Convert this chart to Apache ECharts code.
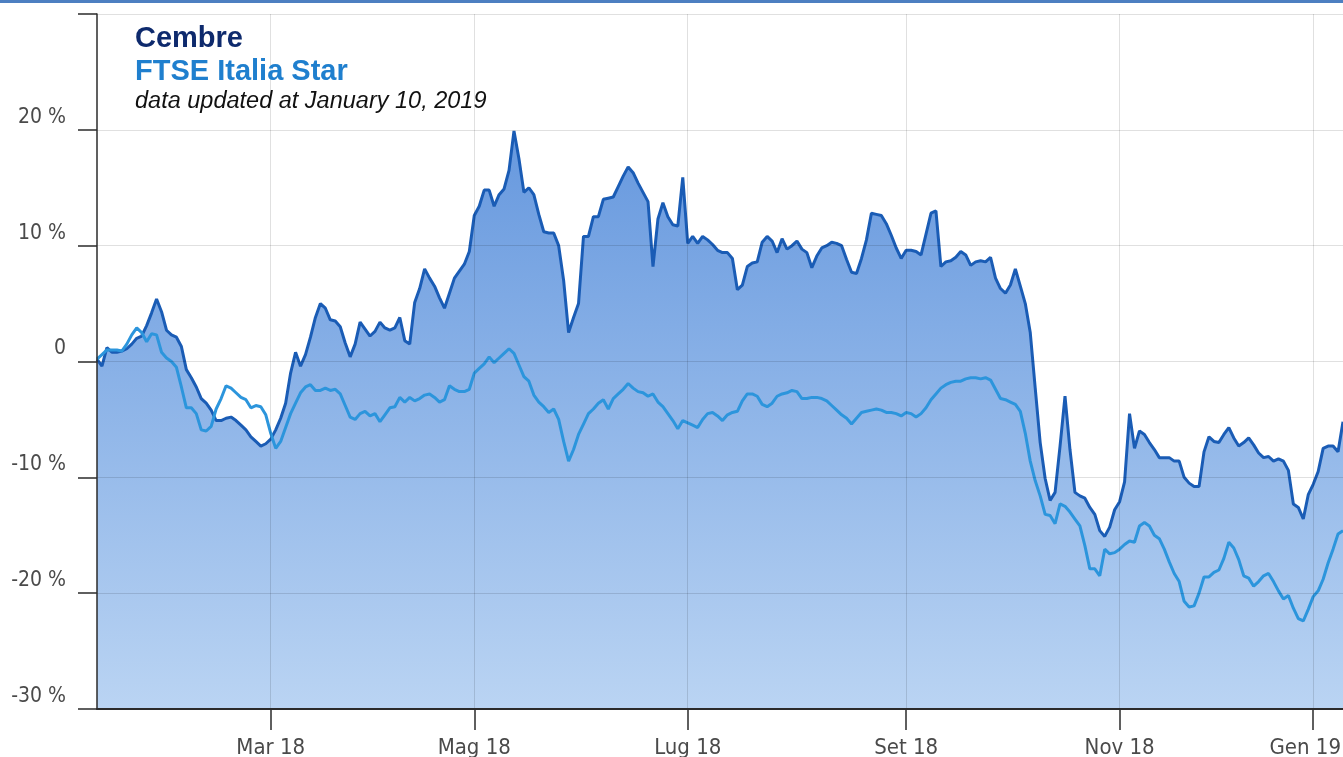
<!DOCTYPE html>
<html><head><meta charset="utf-8">
<script src="https://cdn.jsdelivr.net/npm/echarts@6.0.0/dist/echarts.min.js"></script>
<style>html,body{margin:0;padding:0;background:#fff}#c{width:1343px;height:757px}</style>
</head><body><div id="c"></div><script>
// ---- data ----
const startDate = '2018-01-11';
const endDate = '2019-01-10';
const holidays = ['2018-03-30','2018-04-02','2018-05-01','2018-08-15','2018-12-24','2018-12-25','2018-12-26','2018-12-31','2019-01-01'];
const monthNames = ['Gen','Feb','Mar','Apr','Mag','Giu','Lug','Ago','Set','Ott','Nov','Dic'];
const yTicks = [-30,-20,-10,0,10,20,30];
const seriesNames = ['Cembre','FTSE Italia Star'];
const subtitle = 'data updated at January 10, 2019';

const cembre = [
0.2,-0.4,1.2,0.8,0.8,0.9,1.1,1.5,2.0,2.2,
3.1,4.2,5.4,4.3,2.7,2.3,2.1,1.3,-0.7,-1.4,
-2.2,-3.2,-3.6,-4.2,-5.1,-5.1,-4.9,-4.8,-5.1,-5.5,
-5.9,-6.5,-6.9,-7.3,-7.1,-6.7,-5.9,-4.9,-3.6,-1.0,
0.8,-0.4,0.6,2.1,3.8,5.0,4.6,3.6,3.5,3.0,
1.6,0.4,1.5,3.4,2.8,2.2,2.6,3.4,2.9,2.7,
2.9,3.8,1.8,1.5,5.1,6.3,8.0,7.2,6.5,5.5,
4.6,5.9,7.2,7.8,8.4,9.5,12.6,13.4,14.8,14.8,
13.4,14.4,14.9,16.5,19.9,17.5,14.6,15.0,14.4,12.7,
11.2,11.1,11.1,10.0,7.0,2.5,3.8,5.0,10.8,10.8,
12.5,12.5,14.0,14.1,14.2,15.1,16.0,16.8,16.3,15.4,
14.6,13.8,8.2,12.3,13.7,12.5,11.8,11.7,15.9,10.2,
10.8,10.2,10.8,10.5,10.1,9.6,9.4,9.4,8.9,6.2,
6.6,8.2,8.5,8.6,10.3,10.8,10.4,9.4,10.6,9.7,
10.0,10.4,9.7,9.4,8.1,9.1,9.8,10.0,10.3,10.2,
10.0,8.8,7.7,7.6,8.9,10.5,12.8,12.7,12.6,11.9,
10.9,9.8,8.9,9.6,9.6,9.5,9.2,11.0,12.8,13.0,
8.2,8.6,8.7,9.0,9.5,9.2,8.3,8.6,8.7,8.6,
9.0,7.2,6.3,5.9,6.6,8.0,6.5,5.0,2.5,-2.3,
-7.0,-10.1,-12.0,-11.3,-7.3,-3.0,-7.6,-11.3,-11.6,-11.8,
-12.6,-13.2,-14.6,-15.1,-14.3,-12.8,-12.1,-10.4,-4.5,-7.5,
-6.0,-6.3,-7.0,-7.6,-8.3,-8.3,-8.3,-8.6,-8.6,-10.0,
-10.5,-10.8,-10.8,-7.8,-6.5,-6.9,-7.0,-6.3,-5.7,-6.6,
-7.3,-7.0,-6.6,-7.2,-7.9,-8.3,-8.2,-8.6,-8.4,-8.6,
-9.4,-12.3,-12.6,-13.6,-11.5,-10.6,-9.5,-7.5,-7.3,-7.3,
-7.8,-5.2
];

const ftseStar = [
0.2,0.6,1.0,1.0,1.0,0.9,1.5,2.3,2.9,2.5,
1.7,2.4,2.3,0.8,0.3,0.0,-0.5,-2.2,-4.0,-4.0,
-4.5,-5.9,-6.0,-5.6,-4.1,-3.2,-2.1,-2.3,-2.7,-3.1,
-3.3,-4.0,-3.8,-3.9,-4.6,-6.2,-7.5,-6.9,-5.7,-4.5,
-3.6,-2.7,-2.2,-2.0,-2.5,-2.5,-2.3,-2.5,-2.4,-2.8,
-3.8,-4.8,-5.0,-4.5,-4.3,-4.7,-4.5,-5.2,-4.6,-4.0,
-3.9,-3.1,-3.5,-3.1,-3.4,-3.2,-2.9,-2.8,-3.1,-3.5,
-3.3,-2.1,-2.4,-2.6,-2.6,-2.4,-1.0,-0.6,-0.2,0.4,
-0.1,0.3,0.7,1.1,0.7,-0.3,-1.3,-1.7,-2.9,-3.5,
-3.9,-4.4,-4.1,-5.0,-6.9,-8.6,-7.6,-6.3,-5.4,-4.5,
-4.1,-3.6,-3.3,-4.1,-3.2,-2.8,-2.4,-1.9,-2.3,-2.6,
-2.7,-3.0,-2.8,-3.5,-3.9,-4.5,-5.1,-5.8,-5.1,-5.3,
-5.5,-5.7,-5.0,-4.5,-4.4,-4.7,-5.1,-4.6,-4.4,-4.3,
-3.4,-2.8,-2.8,-3.0,-3.7,-3.9,-3.6,-3.0,-2.8,-2.7,
-2.5,-2.6,-3.2,-3.2,-3.1,-3.1,-3.2,-3.4,-3.8,-4.2,
-4.6,-4.9,-5.4,-4.9,-4.4,-4.3,-4.2,-4.1,-4.2,-4.4,
-4.4,-4.5,-4.7,-4.4,-4.5,-4.8,-4.5,-4.0,-3.3,-2.8,
-2.3,-2.0,-1.8,-1.7,-1.7,-1.5,-1.4,-1.4,-1.5,-1.4,
-1.6,-2.4,-3.2,-3.3,-3.5,-3.7,-4.3,-6.2,-8.6,-10.3,
-11.6,-13.2,-13.3,-14.0,-12.3,-12.5,-13.0,-13.6,-14.2,-15.9,
-17.9,-17.9,-18.5,-16.2,-16.6,-16.5,-16.2,-15.8,-15.5,-15.6,
-14.2,-13.9,-14.2,-15.0,-15.3,-16.2,-17.3,-18.3,-19.0,-20.7,
-21.2,-21.1,-20.0,-18.6,-18.6,-18.2,-18.0,-17.0,-15.6,-16.1,
-17.1,-18.5,-18.7,-19.4,-19.0,-18.5,-18.3,-19.0,-19.8,-20.5,
-20.2,-21.3,-22.2,-22.4,-21.4,-20.3,-19.8,-18.8,-17.4,-16.2,
-14.9,-14.6
];

// ---- trading-day categories ----
function tradingDays(start, end, hol) {
  const out = [];
  const d = new Date(start + 'T00:00:00Z');
  const e = new Date(end + 'T00:00:00Z');
  while (d <= e) {
    const wd = d.getUTCDay();
    const s = d.toISOString().slice(0, 10);
    if (wd !== 0 && wd !== 6 && hol.indexOf(s) < 0) out.push(s);
    d.setUTCDate(d.getUTCDate() + 1);
  }
  return out;
}
const categories = tradingDays(startDate, endDate, holidays);
const tickSet = new Set();
let lastTick = -1;
for (let i = 1; i < categories.length; i++) {
  const m = +categories[i].slice(5, 7) - 1;
  const pm = +categories[i - 1].slice(5, 7) - 1;
  if (m !== pm && m % 2 === 0) { tickSet.add(i); lastTick = i; }
}
const isTick = (idx) => tickSet.has(idx);
const monthLabel = (v, idx) => {
  const t = monthNames[+v.slice(5, 7) - 1] + ' ' + v.slice(2, 4);
  return idx === lastTick ? '{edge|' + t + '}' : t;
};

const axisFont = "'DejaVu Sans Condensed','Liberation Sans Narrow','DejaVu Sans',sans-serif";
const titleFont = "'Liberation Sans',Arial,sans-serif";

const chart = echarts.init(document.getElementById('c'), null, { renderer: 'canvas' });
chart.setOption({
  animation: false,
  backgroundColor: '#ffffff',
  grid: { left: 97, right: 0, top: 14, bottom: 48, containLabel: false, outerBoundsMode: 'none' },
  xAxis: {
    type: 'category',
    data: categories,
    boundaryGap: false,
    z: 3,
    axisLine: { show: true, onZero: false, lineStyle: { color: '#2b2b2b', width: 2 } },
    axisTick: { show: true, interval: isTick, length: 21, lineStyle: { color: '#2b2b2b', width: 1.5 } },
    axisLabel: {
      interval: isTick, formatter: monthLabel, margin: 28, fontSize: 22, color: '#4a4a4a', fontFamily: axisFont,
      rich: { edge: { fontSize: 22, color: '#4a4a4a', fontFamily: axisFont, padding: [0, 16, 0, 0] } }
    },
    splitLine: { show: true, interval: isTick, lineStyle: { color: 'rgba(0,0,0,0.12)', width: 1 } }
  },
  yAxis: {
    type: 'value',
    min: yTicks[0], max: yTicks[yTicks.length - 1], interval: 10,
    z: 3,
    axisLine: { show: true, lineStyle: { color: '#2b2b2b', width: 1.5 } },
    axisTick: { show: true, inside: false, length: 19, lineStyle: { color: '#2b2b2b', width: 1.5 } },
    axisLabel: {
      margin: 31, fontSize: 21, color: '#4a4a4a', fontFamily: axisFont,
      verticalAlign: 'bottom', padding: [0, 0, 2, 0],
      formatter: (v) => v === 30 ? '' : (v === 0 ? '0' : v + ' %')
    },
    splitLine: { show: true, lineStyle: { color: 'rgba(0,0,0,0.12)', width: 1 } }
  },
  series: [
    {
      name: seriesNames[0], type: 'line', data: cembre, showSymbol: false, smooth: false,
      lineStyle: { color: '#1a5cb5', width: 3 },
      areaStyle: {
        origin: 'start',
        opacity: 1,
        color: new echarts.graphic.LinearGradient(0, 0, 0, 1, [
          { offset: 0, color: '#6698de' },
          { offset: 1, color: '#bad4f3' }
        ])
      },
      z: 2
    },
    {
      name: seriesNames[1], type: 'line', data: ftseStar, showSymbol: false, smooth: false,
      lineStyle: { color: '#2c95dc', width: 3 },
      z: 2
    }
  ],
  graphic: [
    { type: 'rect', left: 0, top: 0, shape: { width: 1343, height: 3 }, style: { fill: '#4d7fc1' }, z: 10 },
    { type: 'text', left: 135, top: 24, style: { text: seriesNames[0], font: "bold 29px " + titleFont, fill: '#0e2a6d' }, z: 10 },
    { type: 'text', left: 135, top: 57, style: { text: seriesNames[1], font: "bold 29px " + titleFont, fill: '#1f7fce' }, z: 10 },
    { type: 'text', left: 135, top: 90, style: { text: subtitle, font: "italic 23.5px " + titleFont, fill: '#111111' }, z: 10 }
  ]
});
</script></body></html>
